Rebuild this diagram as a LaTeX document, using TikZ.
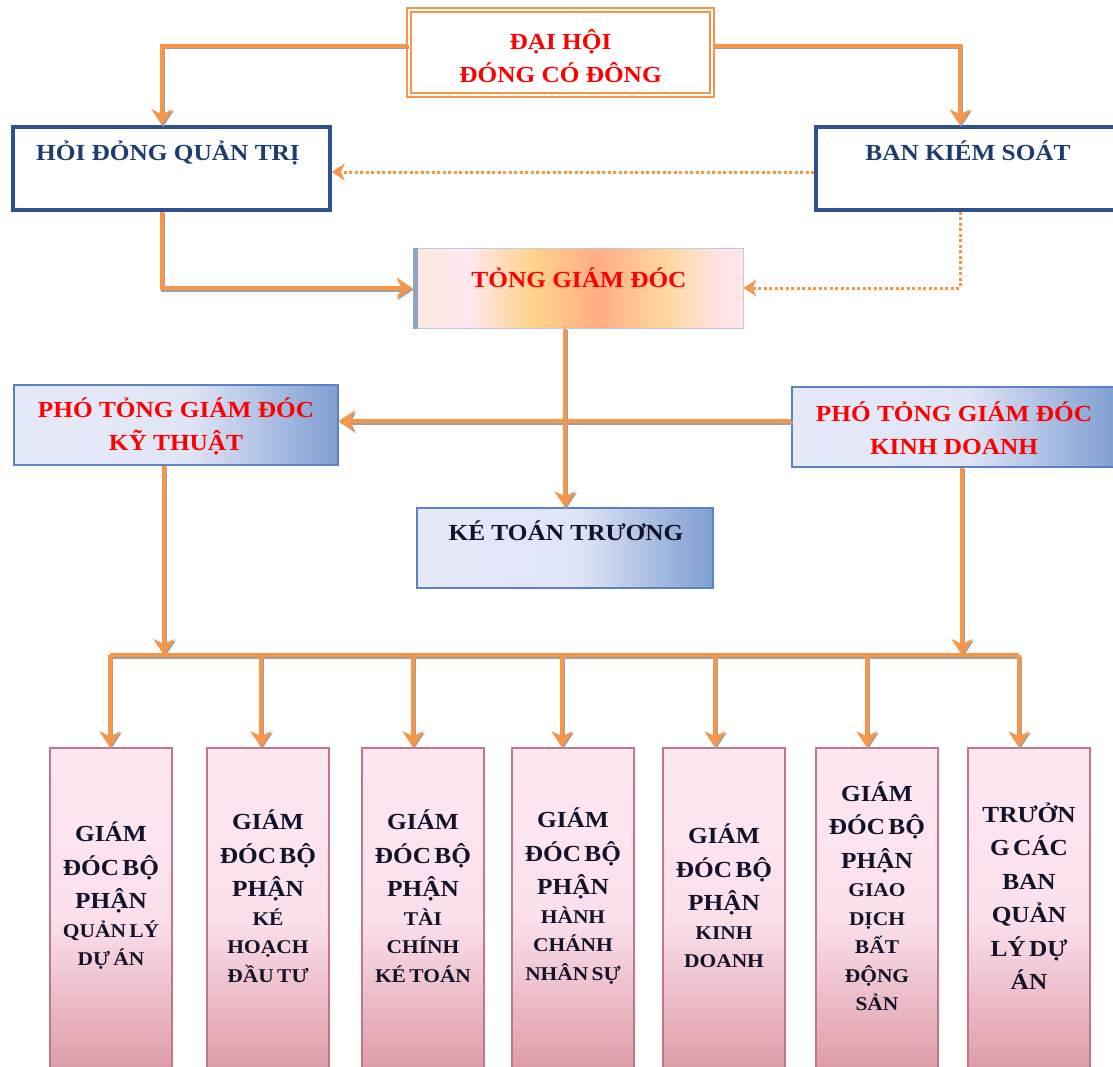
\documentclass[tikz,border=0pt]{standalone}
\usepackage{fontspec}
\setmainfont{Liberation Serif}[FakeStretch=1.1]
\usetikzlibrary{arrows.meta}
\definecolor{orarr}{HTML}{F79646}
\definecolor{shad}{HTML}{A0A0A0}
\definecolor{navy}{HTML}{1F3C6E}
\definecolor{boxblue}{HTML}{2F528F}
\definecolor{ptblue}{HTML}{5B82C2}
\definecolor{txtdark}{HTML}{12122A}
\definecolor{rosebd}{HTML}{C27884}
\definecolor{tgbd}{HTML}{B9CDE3}
\definecolor{tgbar}{HTML}{8FA5C3}
\definecolor{tg0}{HTML}{FDEADB}
\definecolor{tg1}{HTML}{FFE8F2}
\definecolor{tg2}{HTML}{FFD38C}
\definecolor{tg3}{HTML}{FFAC84}
\definecolor{tg4}{HTML}{FFD69E}
\definecolor{tg5}{HTML}{FFE4E8}
\definecolor{pt0}{HTML}{E6E9F8}
\definecolor{pt1}{HTML}{E0E5F6}
\definecolor{pt2}{HTML}{7E9ED2}
\definecolor{pk0}{HTML}{FDE8F4}
\definecolor{pk1}{HTML}{FBE0EC}
\definecolor{pk2}{HTML}{D9939E}
\pgfdeclarehorizontalshading{tgdshade}{100bp}{color(0bp)=(tg0); color(25bp)=(tg0); color(33bp)=(tg1); color(43bp)=(tg2); color(53bp)=(tg3); color(63bp)=(tg4); color(72bp)=(tg5); color(75bp)=(tg5); color(100bp)=(tg5)}
\pgfdeclarehorizontalshading{ptshade}{100bp}{color(0bp)=(pt0); color(25bp)=(pt0); color(52bp)=(pt1); color(75bp)=(pt2); color(100bp)=(pt2)}
\newcommand\fbig{\fontsize{23}{33}\selectfont\bfseries}
\newcommand\fbot{\fontsize{23}{33.5}\selectfont\bfseries}
\newcommand\fsml{\fontsize{19.5}{28.5}\selectfont\bfseries}
\tikzset{
  arr/.style={draw=orarr, line width=4pt, -{Stealth[length=16pt,width=21pt,inset=5pt]},
    preaction={draw=shad, line width=4pt, -{Stealth[length=16pt,width=21pt,inset=5pt]}, transform canvas={shift={(1.2pt,-1.5pt)}}}},
  busline/.style={draw=orarr, line width=4pt,
    preaction={draw=shad, line width=4pt, transform canvas={shift={(1.2pt,-1.5pt)}}}},
  dotarr/.style={draw=orarr, line width=3pt, dash pattern=on 3pt off 2.5pt, -{Stealth[length=13pt,width=17pt,inset=4pt]}},
  dhbox/.style={draw=orarr, double=white, double distance=2.5pt, line width=1.5pt, fill=white, inner sep=0, minimum width=303pt, minimum height=85pt},
  bluebox/.style={draw=boxblue, line width=3.5pt, fill=white, inner sep=0, minimum height=83pt},
  tgbox/.style={draw=tgbd, line width=1pt, shading=tgdshade, inner sep=0, minimum width=330pt, minimum height=80pt},
  ptbox/.style={draw=ptblue, line width=1.3pt, shading=ptshade, inner sep=0, minimum height=80pt},
  pinkbox/.style={draw=rosebd, line width=1.5pt, top color=pk0, bottom color=pk2, middle color=pk1, inner sep=0, minimum width=122pt, minimum height=342pt},
  redtxt/.style={text=red, font=\fbig, align=center, inner sep=0},
  navytxt/.style={text=navy, font=\fbig, inner sep=0, anchor=base},
  darktxt/.style={text=txtdark, font=\fbig, inner sep=0, anchor=base},
  btxt/.style={text=txtdark, text width=124pt, align=center, inner sep=0}
}
\begin{document}
\begin{tikzpicture}[x=1pt,y=-1pt]
\useasboundingbox (0,0) rectangle (1113,1066);
% helper coordinates
\coordinate (hqx) at (162,0);
\coordinate (bkx) at (960,0);
\coordinate (ly) at (0,421);
\coordinate (kb) at (164,655);
\coordinate (db) at (962,655);
\coordinate (d1) at (110,655);
\coordinate (d2) at (261,655);
\coordinate (d3) at (413,655);
\coordinate (d4) at (562,655);
\coordinate (d5) at (715,655);
\coordinate (d6) at (867,655);
\coordinate (d7) at (1019,655);

% top boxes
\node[dhbox] (dhcd) at (560.5,52.5) {};
\node[redtxt] (dhcdT) at (560.5,56) {ĐẠI HỘI\\ĐÓNG CÓ ĐÔNG};
\node[bluebox, minimum width=317pt] (hdqt) at (171.5,168.5) {};
\node[navytxt] (hdqtT) at (168,160) {HỎI ĐỎNG QUẢN TRỊ};
\node[bluebox, minimum width=305pt] (bks) at (968.5,168.5) {};
\node[navytxt] (bksT) at (968,160) {BAN KIÉM SOÁT};
\node[tgbox] (tgd) at (578,288) {};
\draw[tgbar, line width=5pt] ([xshift=2.5pt]tgd.north west) -- ([xshift=2.5pt]tgd.south west);
\node[redtxt, anchor=base] (tgdT) at (579,287) {TỎNG GIÁM ĐÓC};
\node[ptbox, minimum width=324pt] (pkt) at (176,425) {};
\node[redtxt] (pktT) at (176,426) {PHÓ TỎNG GIÁM ĐÓC\\KỸ THUẬT};
\node[ptbox, minimum width=324pt] (pkd) at (954,427) {};
\node[redtxt] (pkdT) at (954,428.5) {PHÓ TỎNG GIÁM ĐÓC\\KINH DOANH};
\node[ptbox, minimum width=296pt] (ktt) at (565,548) {};
\node[darktxt] (kttT) at (566,540) {KÉ TOÁN TRƯƠNG};

% bottom boxes
\node[pinkbox] (b1) at (111,919) {};
\node[pinkbox] (b2) at (268,919) {};
\node[pinkbox] (b3) at (423,919) {};
\node[pinkbox] (b4) at (573,919) {};
\node[pinkbox] (b5) at (724,919) {};
\node[pinkbox] (b6) at (877,919) {};
\node[pinkbox] (b7) at (1029,919) {};
\node[btxt] (b1t) at (111,896) {\fbot GIÁM\\ĐÓC BỘ\\PHẬN\par\fsml QUẢN LÝ\\DỰ ÁN\par};
\node[btxt] (b2t) at (268,896) {\fbot GIÁM\\ĐÓC BỘ\\PHẬN\par\fsml KÉ\\HOẠCH\\ĐẦU TƯ\par};
\node[btxt] (b3t) at (423,896) {\fbot GIÁM\\ĐÓC BỘ\\PHẬN\par\fsml TÀI\\CHÍNH\\KÉ TOÁN\par};
\node[btxt] (b4t) at (573,896) {\fbot GIÁM\\ĐÓC BỘ\\PHẬN\par\fsml HÀNH\\CHÁNH\\NHÂN SỰ\par};
\node[btxt] (b5t) at (724,896) {\fbot GIÁM\\ĐÓC BỘ\\PHẬN\par\fsml KINH\\DOANH\par};
\node[btxt] (b6t) at (877,896) {\fbot GIÁM\\ĐÓC BỘ\\PHẬN\par\fsml GIAO\\DỊCH\\BẤT\\ĐỘNG\\SẢN\par};
\node[btxt] (b7t) at (1029,896) {\fbot TRƯỞN\\G CÁC\\BAN\\QUẢN\\LÝ DỰ\\ÁN\par};

% connectors
\draw[arr] ([yshift=7pt]dhcd.west) -| (hqx |- hdqt.north);
\draw[arr] ([yshift=7pt]dhcd.east) -| (bkx |- bks.north);
\draw[dotarr] ([yshift=-3.5pt]bks.west) -- ([yshift=-3.5pt]hdqt.east);
\draw[arr] (hqx |- hdqt.south) |- (tgd.west);
\draw[dotarr] (bkx |- bks.south) |- (tgd.east);
\draw[arr] (pkd.west |- ly) -- (pkt.east |- ly);
\draw[arr] (tgd.south -| ktt.north) -- (ktt.north);
\draw[arr] (kb |- pkt.south) -- (kb);
\draw[arr] (db |- pkd.south) -- (db);
\draw[busline] (d1) -- (d7);
\draw[arr] (d1) -- (d1 |- b1.north);
\draw[arr] (d2) -- (d2 |- b2.north);
\draw[arr] (d3) -- (d3 |- b3.north);
\draw[arr] (d4) -- (d4 |- b4.north);
\draw[arr] (d5) -- (d5 |- b5.north);
\draw[arr] (d6) -- (d6 |- b6.north);
\draw[arr] (d7) -- (d7 |- b7.north);
\end{tikzpicture}
\end{document}
